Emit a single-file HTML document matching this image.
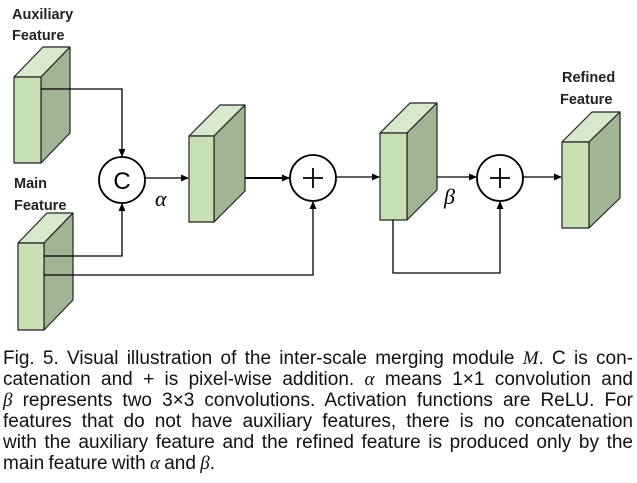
<!DOCTYPE html>
<html><head><meta charset="utf-8"><style>
body{margin:0;width:637px;height:483px;background:#fff;overflow:hidden;position:relative;font-family:"Liberation Sans",sans-serif}
svg{position:absolute;left:0;top:0}
.cap{position:absolute;left:3px;width:630px;font-size:19px;line-height:21px;color:#111;white-space:nowrap;word-spacing:-1px}
.j{text-align:justify;text-align-last:justify;white-space:normal}
i{font-family:"Liberation Serif",serif}
</style></head><body>
<svg width="637" height="340" viewBox="0 0 637 340">
<defs><marker id="a" markerWidth="8" markerHeight="8" refX="7" refY="4" orient="auto" markerUnits="userSpaceOnUse"><path d="M0,0.5 L8,4 L0,7.5z" fill="#000"/></marker></defs>
<g stroke="#222" stroke-width="1.2" stroke-linejoin="round">
<polygon points="14,77 43,47 70,47 41,77" fill="#d6e9cc"/>
<polygon points="41,77 70,47 70,133 41,163" fill="#9fb596"/>
<rect x="14" y="77" width="27" height="86" fill="#c7e1b5"/>
<polygon points="18,243 47,213 73,213 44,243" fill="#d6e9cc"/>
<polygon points="44,243 73,213 73,300 44,330" fill="#9fb596"/>
<rect x="18" y="243" width="26" height="87" fill="#c7e1b5"/>
<polygon points="189,136 220,105 245,105 214,136" fill="#d6e9cc"/>
<polygon points="214,136 245,105 245,191 214,222" fill="#9fb596"/>
<rect x="189" y="136" width="25" height="86" fill="#c7e1b5"/>
<polygon points="380,133 410,103 437,103 407,133" fill="#d6e9cc"/>
<polygon points="407,133 437,103 437,190 407,220" fill="#9fb596"/>
<rect x="380" y="133" width="27" height="87" fill="#c7e1b5"/>
<polygon points="562,142 592,112 620,112 589,142" fill="#d6e9cc"/>
<polygon points="589,142 620,112 620,198 589,228" fill="#9fb596"/>
<rect x="562" y="142" width="27" height="86" fill="#c7e1b5"/>
</g>
<g fill="#fff" stroke="#000" stroke-width="1.8">
<circle cx="122" cy="180" r="23"/><circle cx="313" cy="178" r="23"/><circle cx="500" cy="178" r="23"/>
</g>
<g fill="none" stroke="#000" stroke-width="1.3">
<polyline points="41,89 122,89 122,156" marker-end="url(#a)"/>
<polyline points="44,256 122,256 122,204" marker-end="url(#a)"/>
<polyline points="44,275 313,275 313,202" marker-end="url(#a)"/>
<line x1="145" y1="178" x2="188" y2="178" marker-end="url(#a)"/>
<line x1="245" y1="178" x2="289" y2="178" stroke-width="2" marker-end="url(#a)"/>
<line x1="336" y1="177" x2="379" y2="177" marker-end="url(#a)"/>
<line x1="437" y1="177" x2="476" y2="177" marker-end="url(#a)"/>
<polyline points="393,220 393,273 500,273 500,202" marker-end="url(#a)"/>
<line x1="523" y1="177" x2="561" y2="177" marker-end="url(#a)"/>
</g>
<g stroke="#000" stroke-width="1.8">
<line x1="303" y1="178" x2="323" y2="178"/><line x1="313" y1="168" x2="313" y2="188"/>
<line x1="490" y1="178" x2="510" y2="178"/><line x1="500" y1="168" x2="500" y2="188"/>
</g>
<text x="122" y="189" font-size="24" text-anchor="middle" font-family="Liberation Sans">C</text>
<text x="155" y="206" font-size="22" font-style="italic" font-family="Liberation Serif">α</text>
<text x="444" y="204" font-size="22" font-style="italic" font-family="Liberation Serif">β</text>
<g font-size="14.5" font-weight="bold" fill="#222" font-family="Liberation Sans">
<text x="12" y="19">Auxiliary</text><text x="12" y="40">Feature</text>
<text x="14" y="188">Main</text><text x="14" y="210">Feature</text>
<text x="562" y="82">Refined</text><text x="560" y="104">Feature</text>
</g>
</svg>
<div class="cap j" style="top:348px">Fig. 5. Visual illustration of the inter-scale merging module <i>M</i>. C is con-</div>
<div class="cap j" style="top:369px">catenation and + is pixel-wise addition. <i>α</i> means 1×1 convolution and</div>
<div class="cap j" style="top:390px"><i>β</i> represents two 3×3 convolutions. Activation functions are ReLU. For</div>
<div class="cap j" style="top:411px">features that do not have auxiliary features, there is no concatenation</div>
<div class="cap j" style="top:432px">with the auxiliary feature and the refined feature is produced only by the</div>
<div class="cap" style="top:453px">main feature with <i>α</i> and <i>β</i>.</div>
</body></html>
